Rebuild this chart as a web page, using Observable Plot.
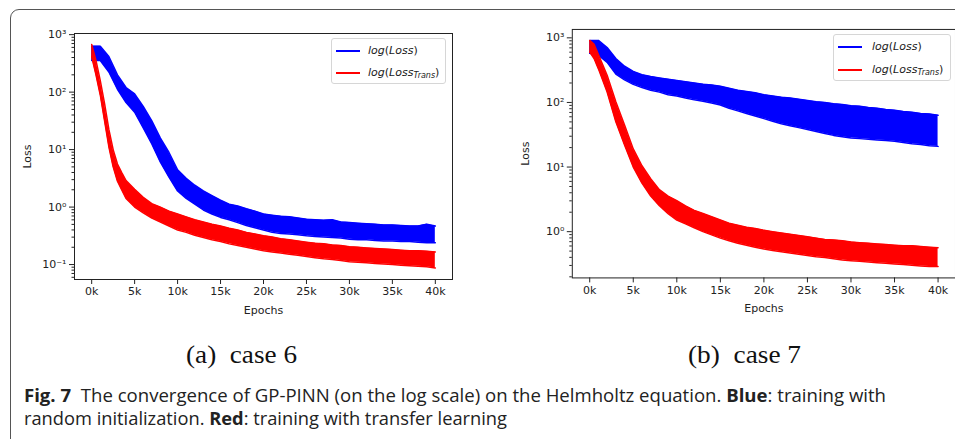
<!DOCTYPE html>
<html><head><meta charset="utf-8">
<script src="https://cdn.jsdelivr.net/npm/d3@7"></script>
<script src="https://cdn.jsdelivr.net/npm/@observablehq/plot@0.6"></script>
<style>
html,body{margin:0;padding:0;background:#fff;}
#wrap{position:relative;width:955px;height:439px;overflow:hidden;background:#fff;}
#box{position:absolute;left:10px;top:9px;width:1000px;height:500px;border:1.5px solid #555;border-radius:9px;box-sizing:border-box;}
.plot{position:absolute;top:0;}
.legend{position:absolute;border:1px solid #d6d6d6;border-radius:3px;background:rgba(255,255,255,0.85);font-family:"DejaVu Sans";font-size:11px;color:#222;box-sizing:border-box;}
.legend .ln{position:absolute;left:4px;width:24px;height:2px;}
.legend .tx{position:absolute;left:36px;white-space:nowrap;line-height:12px;}
.legend sub{font-size:8px;vertical-align:-2px;}
.cap{position:absolute;font-family:"Liberation Serif";font-size:25px;white-space:nowrap;color:#111;transform-origin:0 50%;line-height:28px;}
.fig{position:absolute;left:24px;font-family:"Open Sans";font-size:18px;white-space:nowrap;color:#222;transform-origin:0 50%;line-height:20px;height:20px;}
.fig b{font-weight:700;}
</style></head>
<body>
<div id="wrap">
  <div id="box"></div>
  <div id="p1" class="plot" style="left:0px"></div>
  <div id="p2" class="plot" style="left:470px"></div>
  <div class="legend" style="left:331px;top:38px;width:115px;height:46px;">
    <div class="ln" style="top:11px;background:#0000ff"></div>
    <div class="tx" style="top:6px;"><i>log</i>(<i>Loss</i>)</div>
    <div class="ln" style="top:33px;background:#ff0000"></div>
    <div class="tx" style="top:28px;"><i>log</i>(<i>Loss<sub>Trans</sub></i>)</div>
  </div>
  <div class="legend" style="left:833px;top:34px;width:118px;height:47px;">
    <div class="ln" style="top:11px;background:#0000ff"></div>
    <div class="tx" style="top:6px;left:38px;"><i>log</i>(<i>Loss</i>)</div>
    <div class="ln" style="top:34px;background:#ff0000"></div>
    <div class="tx" style="top:29px;left:38px;"><i>log</i>(<i>Loss<sub>Trans</sub></i>)</div>
  </div>
  <div class="cap" id="capA" style="left:186px;top:341px;">(a)&nbsp; case 6</div>
  <div class="cap" id="capB" style="left:688px;top:341px;">(b)&nbsp; case 7</div>
  <div class="fig" id="fig1" style="top:385px;"><b>Fig. 7</b>&nbsp; The convergence of GP-PINN (on the log scale) on the Helmholtz equation. <b>Blue</b>: training with</div>
  <div class="fig" id="fig2" style="top:408px;">random initialization. <b>Red</b>: training with transfer learning</div>
</div>
<script>
// ---- data (log10 of loss, band envelope) ----
const xTicks = [0, 5000, 10000, 15000, 20000, 25000, 30000, 35000, 40000];

// case 6
const case6BlueEpochs = d3.range(0, 40001, 1000);
const case6BlueLogLo = [2.55,2.55,2.35,2.05,1.82,1.65,1.38,1.10,0.78,0.52,0.28,0.15,0.05,-0.05,-0.12,-0.18,-0.22,-0.27,-0.32,-0.36,-0.40,-0.44,-0.46,-0.47,-0.48,-0.50,-0.51,-0.52,-0.53,-0.54,-0.56,-0.57,-0.57,-0.58,-0.59,-0.59,-0.60,-0.60,-0.61,-0.62,-0.62];
const case6BlueLogHi = [2.80,2.80,2.62,2.30,2.08,1.97,1.75,1.50,1.20,0.95,0.65,0.50,0.38,0.28,0.20,0.12,0.05,0.02,-0.03,-0.07,-0.12,-0.14,-0.16,-0.17,-0.19,-0.21,-0.22,-0.23,-0.22,-0.26,-0.27,-0.28,-0.29,-0.30,-0.31,-0.31,-0.32,-0.33,-0.33,-0.30,-0.33];
const case6RedEpochs = [0,500,1000,1500,2000,2500,3000,3500,4000,5000,6000,7000,8000,9000,10000,11000,12000,13000,14000,15000,16000,17000,18000,19000,20000,21000,22000,23000,24000,25000,26000,27000,28000,29000,30000,31000,32000,33000,34000,35000,36000,37000,38000,39000,40000];
const case6RedLogLo = [2.62,2.30,1.95,1.50,1.05,0.70,0.45,0.30,0.15,0.00,-0.10,-0.19,-0.26,-0.33,-0.40,-0.44,-0.49,-0.53,-0.57,-0.60,-0.64,-0.67,-0.70,-0.73,-0.76,-0.78,-0.80,-0.82,-0.84,-0.86,-0.88,-0.90,-0.91,-0.93,-0.95,-0.96,-0.97,-0.98,-0.99,-1.00,-1.01,-1.02,-1.03,-1.04,-1.06];
const case6RedLogHi = [2.83,2.55,2.20,1.80,1.35,1.00,0.75,0.60,0.46,0.31,0.17,0.06,0.00,-0.07,-0.12,-0.17,-0.22,-0.26,-0.30,-0.33,-0.37,-0.40,-0.44,-0.47,-0.50,-0.52,-0.55,-0.57,-0.59,-0.61,-0.63,-0.64,-0.66,-0.67,-0.69,-0.70,-0.71,-0.72,-0.73,-0.74,-0.75,-0.76,-0.76,-0.77,-0.78];

// case 7
const case7BlueEpochs = d3.range(0, 40001, 1000);
const case7BlueLogLo = [2.76,2.73,2.62,2.44,2.35,2.28,2.23,2.19,2.16,2.12,2.10,2.07,2.04,2.02,1.99,1.96,1.91,1.87,1.83,1.79,1.75,1.71,1.67,1.64,1.61,1.58,1.55,1.52,1.49,1.47,1.45,1.44,1.43,1.42,1.41,1.40,1.38,1.36,1.35,1.33,1.32];
const case7BlueLogHi = [2.96,2.96,2.85,2.68,2.56,2.48,2.43,2.40,2.38,2.36,2.34,2.32,2.30,2.28,2.27,2.25,2.22,2.19,2.17,2.15,2.12,2.10,2.08,2.07,2.05,2.03,2.01,2.00,1.98,1.97,1.95,1.94,1.92,1.91,1.89,1.88,1.86,1.85,1.83,1.82,1.80];
const case7RedEpochs = [0,500,1000,2000,3000,4000,5000,6000,7000,8000,9000,10000,11000,12000,13000,14000,15000,16000,17000,18000,19000,20000,21000,22000,23000,24000,25000,26000,27000,28000,29000,30000,31000,32000,33000,34000,35000,36000,37000,38000,39000,40000];
const case7RedLogLo = [2.78,2.68,2.52,2.16,1.70,1.34,1.00,0.75,0.55,0.40,0.28,0.18,0.12,0.06,0.00,-0.05,-0.10,-0.14,-0.18,-0.21,-0.24,-0.27,-0.29,-0.31,-0.33,-0.35,-0.37,-0.39,-0.40,-0.42,-0.44,-0.45,-0.46,-0.47,-0.48,-0.49,-0.50,-0.51,-0.52,-0.53,-0.54,-0.54];
const case7RedLogHi = [2.96,2.90,2.74,2.42,2.01,1.65,1.28,1.02,0.82,0.65,0.55,0.48,0.40,0.33,0.28,0.23,0.18,0.13,0.10,0.07,0.05,0.02,0.00,-0.02,-0.04,-0.06,-0.08,-0.10,-0.12,-0.13,-0.14,-0.16,-0.17,-0.18,-0.19,-0.20,-0.21,-0.22,-0.22,-0.23,-0.24,-0.25];

const BLUE = "#0000ff", RED = "#ff0000";

function rows(epochs, lo, hi) {
  return epochs.map((e, i) => ({epoch: e, lo: Math.pow(10, lo[i]), hi: Math.pow(10, hi[i])}));
}
const SUP = {"-1": "⁻¹", "0": "⁰", "1": "¹", "2": "²", "3": "³"};
function band(data, color) {
  return [
    Plot.areaY(data, {x: "epoch", y1: "lo", y2: "hi", fill: color, clip: true}),
    Plot.line(data, {x: "epoch", y: "lo", stroke: color, strokeWidth: 1.5, clip: true}),
    Plot.line(data, {x: "epoch", y: "hi", stroke: color, strokeWidth: 1.5, clip: true})
  ];
}
function minorTicks(lo, hi) {
  const out = [];
  for (let k = Math.floor(Math.log10(lo)); k <= Math.ceil(Math.log10(hi)); k++)
    for (let m = 2; m <= 9; m++) { const v = m * Math.pow(10, k); if (v >= lo && v <= hi) out.push(v); }
  return out;
}
function lossPlot(o) {
  const yDom = [Math.pow(10, o.yExp[0]), Math.pow(10, o.yExp[1])];
  return Plot.plot({
    width: o.width, height: 320,
    marginLeft: o.ml, marginRight: o.mr, marginTop: o.mt, marginBottom: o.mb,
    x: {domain: [-2000, 42000]},
    y: {type: "log", domain: yDom},
    style: {fontFamily: "DejaVu Sans", fontSize: "11px", color: "#222", background: "transparent", overflow: "visible"},
    marks: [
      ...band(o.blue, BLUE),
      ...band(o.red, RED),
      Plot.frame({stroke: "#222", strokeWidth: 1}),
      Plot.axisX({ticks: xTicks, tickFormat: d => d / 1000 + "k", tickSize: 5, tickPadding: 3,
        label: "Epochs", labelAnchor: "center", labelOffset: 34, labelArrow: "none"}),
      Plot.axisY({ticks: o.yMajor, tickFormat: d => "10" + SUP[String(Math.round(Math.log10(d)))],
        tickSize: 5, tickPadding: 3, label: "Loss", labelAnchor: "center", labelOffset: o.lo, labelArrow: "none"}),
      Plot.axisY({ticks: minorTicks(yDom[0], yDom[1]), tickFormat: () => "", tickSize: 2.5, label: null})
    ]
  });
}

document.getElementById("p1").appendChild(lossPlot({
  width: 470, ml: 74, mr: 18, mt: 33, mb: 41, yExp: [-1.26, 3.02],
  yMajor: [0.1, 1, 10, 100, 1000], lo: 51,
  blue: rows(case6BlueEpochs, case6BlueLogLo, case6BlueLogHi),
  red: rows(case6RedEpochs, case6RedLogLo, case6RedLogHi)
}));
document.getElementById("p2").appendChild(lossPlot({
  width: 486, ml: 102, mr: 0, mt: 29, mb: 42, yExp: [-0.716, 3.13],
  yMajor: [1, 10, 100, 1000], lo: 51,
  blue: rows(case7BlueEpochs, case7BlueLogLo, case7BlueLogHi),
  red: rows(case7RedEpochs, case7RedLogLo, case7RedLogHi)
}));

function fit(id, target) {
  const el = document.getElementById(id);
  const w = el.getBoundingClientRect().width;
  el.style.transform = `scaleX(${target / w})`;
}
fit("capA", 111); fit("capB", 113); fit("fig1", 862); fit("fig2", 483);
</script>
</body></html>
